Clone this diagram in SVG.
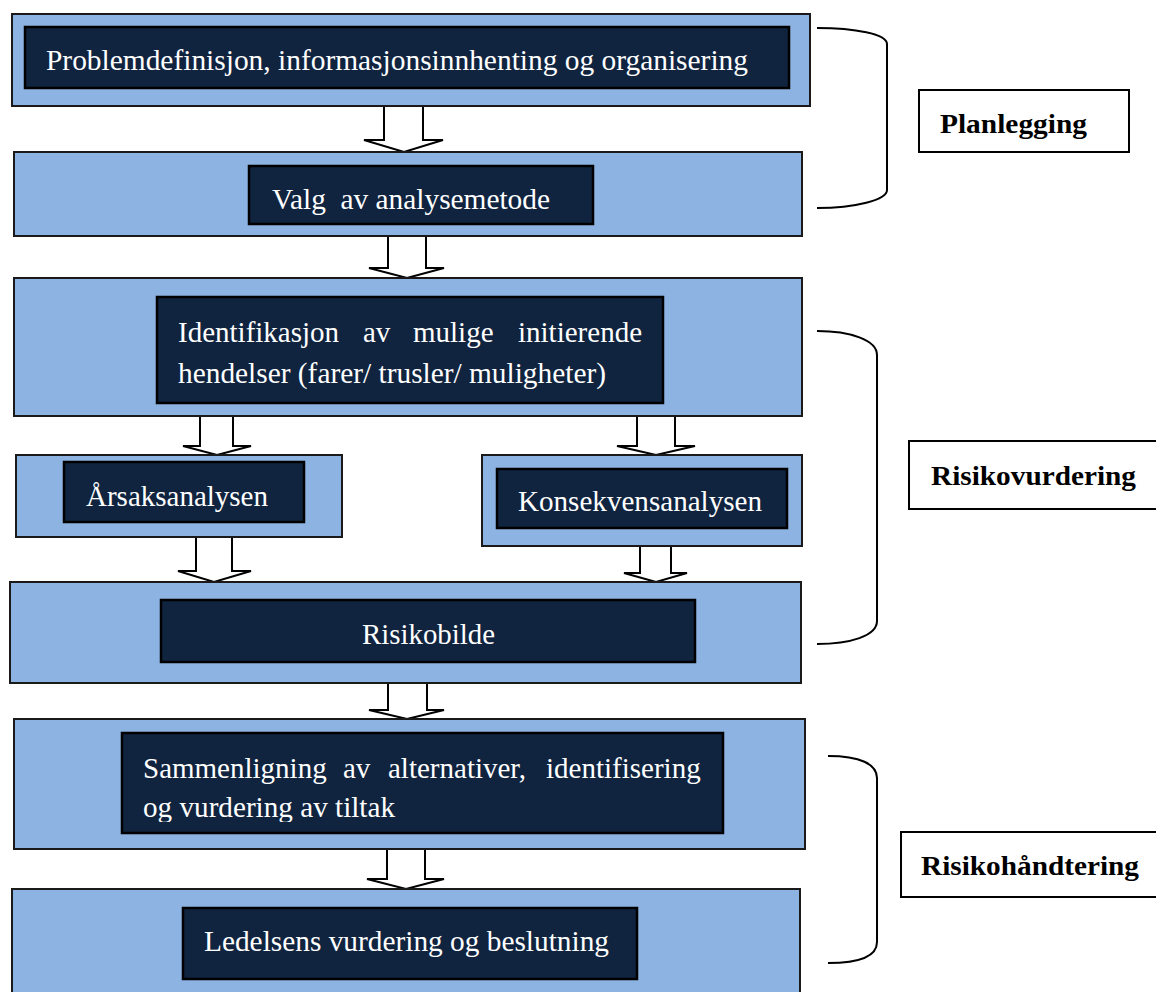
<svg xmlns="http://www.w3.org/2000/svg" width="1156" height="992" viewBox="0 0 1156 992">
<style>
.outer{fill:#8DB3E2;stroke:#1a1a1a;stroke-width:2}
.inner{fill:#10243F;stroke:#000;stroke-width:2.5}
.t{font-family:"Liberation Serif","Times New Roman",serif;font-size:29px;fill:#ffffff}
.lbl{fill:#ffffff;stroke:#000;stroke-width:2}
.lt{font-family:"Liberation Serif","Times New Roman",serif;font-size:28px;font-weight:bold;fill:#000}
.arr{fill:#ffffff;stroke:#000;stroke-width:2;stroke-linejoin:miter}
.br{fill:none;stroke:#000;stroke-width:2}
</style>
<defs>
<clipPath id="clip6"><rect x="100" y="730" width="700" height="92"/></clipPath>
</defs>

<g id="connectors">
<polygon class="arr" points="384,106 384,140 364,140 404,152 443,140 423,140 423,106"/>
<polygon class="arr" points="388,236 388,268 369,268 407,278 444,268 426,268 426,236"/>
<polygon class="arr" points="200,416 200,446 183,446 217,455 251,446 233,446 233,416"/>
<polygon class="arr" points="637,416 637,446 617,446 656,455 695,446 675,446 675,416"/>
<polygon class="arr" points="196,537 196,571 178,571 214,582 251,571 232,571 232,537"/>
<polygon class="arr" points="640,546 640,573 624,573 656,582 687,573 671,573 671,546"/>
<polygon class="arr" points="388,683 388,710 369,710 407,719 444,710 427,710 427,683"/>
<polygon class="arr" points="387,849 387,879 367,879 406,889 444,879 425,879 425,849"/>
</g>

<g id="n1">
<rect class="outer" x="12" y="14" width="798" height="92"/>
<rect class="inner" x="25" y="27" width="764" height="61"/>
<text class="t" x="46" y="70" textLength="702" lengthAdjust="spacingAndGlyphs">Problemdefinisjon, informasjonsinnhenting og organisering</text>
</g>

<g id="n2">
<rect class="outer" x="14" y="152" width="788" height="84"/>
<rect class="inner" x="249" y="166" width="344" height="58"/>
<text class="t" x="272" y="209" textLength="278" lengthAdjust="spacingAndGlyphs" xml:space="preserve">Valg  av analysemetode</text>
</g>

<g id="n3">
<rect class="outer" x="14" y="278" width="788" height="138"/>
<rect class="inner" x="157" y="297" width="506" height="106"/>
<text class="t" y="342"><tspan x="178">Identifikasjon</tspan><tspan x="363">av</tspan><tspan x="413">mulige</tspan><tspan x="518">initierende</tspan></text>
<text class="t" x="178" y="383" textLength="428" lengthAdjust="spacingAndGlyphs">hendelser (farer/ trusler/ muligheter)</text>
</g>

<g id="n4">
<rect class="outer" x="16" y="455" width="326" height="82"/>
<rect class="inner" x="64" y="462" width="240" height="60"/>
<text class="t" x="86" y="506" textLength="182" lengthAdjust="spacingAndGlyphs">Årsaksanalysen</text>
</g>

<g id="n5">
<rect class="outer" x="482" y="455" width="320" height="91"/>
<rect class="inner" x="497" y="469" width="290" height="59"/>
<text class="t" x="518" y="511" textLength="244" lengthAdjust="spacingAndGlyphs">Konsekvensanalysen</text>
</g>

<g id="n6">
<rect class="outer" x="10" y="582" width="791" height="101"/>
<rect class="inner" x="161" y="600" width="534" height="62"/>
<text class="t" x="362" y="644" textLength="133" lengthAdjust="spacingAndGlyphs">Risikobilde</text>
</g>

<g id="n7">
<rect class="outer" x="14" y="719" width="791" height="130"/>
<rect class="inner" x="122" y="733" width="601" height="100"/>
<g clip-path="url(#clip6)">
<text class="t" y="778"><tspan x="143">Sammenligning</tspan><tspan x="343">av</tspan><tspan x="388">alternativer,</tspan><tspan x="546">identifisering</tspan></text>
<text class="t" x="143" y="817" textLength="252" lengthAdjust="spacingAndGlyphs">og vurdering av tiltak</text>
</g>
</g>

<g id="n8">
<rect class="outer" x="12" y="889" width="788" height="110"/>
<rect class="inner" x="183" y="908" width="454" height="71"/>
<text class="t" x="204" y="951" textLength="405" lengthAdjust="spacingAndGlyphs">Ledelsens vurdering og beslutning</text>
</g>

<g id="brackets">
<path class="br" d="M817,28 C855,28 887,34 887,44 L887,190 C887,200 855,208 817,208"/>
<path class="br" d="M817,331 C850,331 877,340 877,355 L877,621 C877,636 850,644 817,644"/>
<path class="br" d="M828,756 C860,756 877,764 877,778 L877,942 C877,956 860,963 828,963"/>
</g>

<g id="l1">
<rect class="lbl" x="919" y="90" width="210" height="62"/>
<text class="lt" x="940" y="133" textLength="147" lengthAdjust="spacingAndGlyphs">Planlegging</text>
</g>
<g id="l2">
<rect class="lbl" x="909" y="441" width="260" height="68"/>
<text class="lt" x="931" y="485" textLength="205" lengthAdjust="spacingAndGlyphs">Risikovurdering</text>
</g>
<g id="l3">
<rect class="lbl" x="901" y="832" width="268" height="65"/>
<text class="lt" x="921" y="875" textLength="218" lengthAdjust="spacingAndGlyphs">Risikohåndtering</text>
</g>
</svg>
